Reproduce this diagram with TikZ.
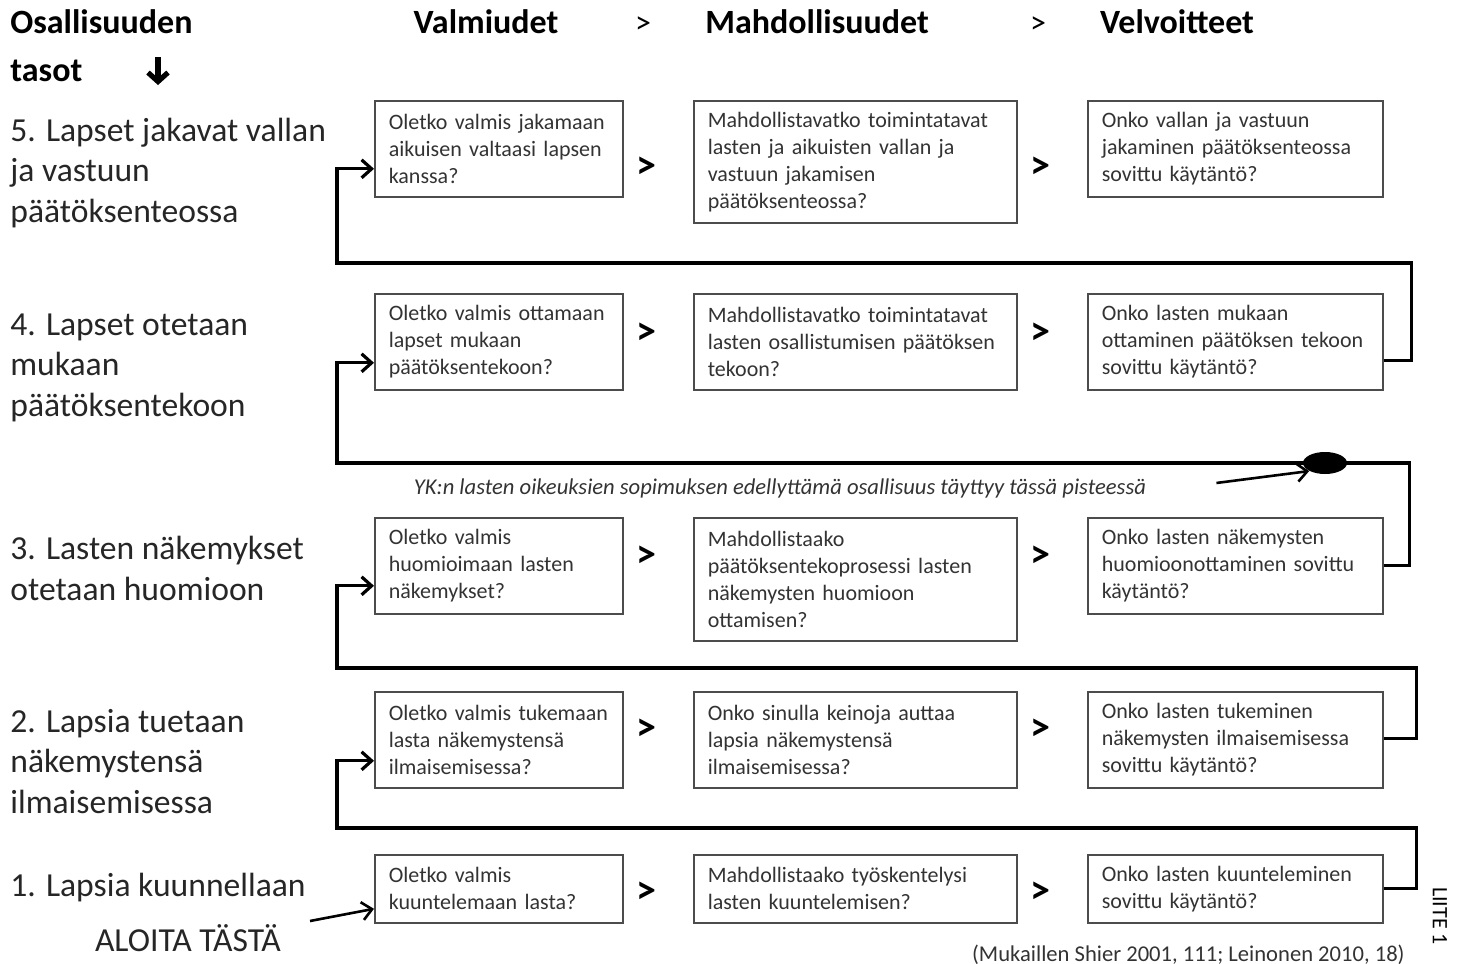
\documentclass[tikz,border=0pt]{standalone}
\usepackage{fontspec}
\setmainfont{Carlito}
\usetikzlibrary{arrows.meta,calc,shapes.geometric}

\begin{document}
\begin{tikzpicture}[x=0.5pt,y=-0.5pt,>={Straight Barb[length=5pt,width=9pt]},
                    line join=miter]
  \tikzstyle{kysymys}=[rectangle,draw=black!70,line width=0.8pt,fill=white,
                       anchor=north west,inner xsep=7pt,inner ysep=0pt,align=left,
                       text=black!80,font=\fontsize{11}{13.5}\selectfont,minimum height=48pt]
  \tikzstyle{valm}=[kysymys,text width=110pt]
  \tikzstyle{mahd}=[kysymys,text width=147.5pt]
  \tikzstyle{velv}=[kysymys,text width=133.5pt]
  \tikzstyle{taso}=[anchor=base west,align=left,inner sep=0pt,text=black!85,
                    font=\fontsize{16.8}{20.25}\selectfont]
  \tikzstyle{otsikko}=[anchor=base,inner sep=0pt,font=\fontsize{17}{18}\selectfont\bfseries]
  \tikzstyle{suurempi}=[inner sep=0pt,font=\fontsize{20}{20}\selectfont\bfseries]
  \tikzstyle{kulku}=[->,line width=1.6pt]

  \useasboundingbox (0,0) rectangle (1468,964);

  % otsikot
  \node[otsikko,anchor=base west] (osa)   at (10,33)  {Osallisuuden};
  \node[otsikko,anchor=base west] (tasot) at (10,81)  {tasot};
  \coordinate (n1) at (158,57);
  \coordinate (n2) at (158,85);
  \draw[line width=3pt,-{Straight Barb[length=4.5pt,width=10pt,line width=2.6pt]}] (n1) -- (n2);
  \node[otsikko] (valmiudet) at (486,33)  {Valmiudet};
  \node[otsikko] (mahdollisuudet) at (817,33) {Mahdollisuudet};
  \node[otsikko] (velvoitteet) at (1177,33) {Velvoitteet};
  \node[otsikko,font=\fontsize{16}{18}\selectfont] (ha) at (643,33)  {>};
  \node[otsikko,font=\fontsize{16}{18}\selectfont] (hb) at (1038,33) {>};

  % tasot (base = viimeisen rivin perusviiva)
  \node[taso] (t5) at (10,222) {5. Lapset jakavat vallan\\ja vastuun\\päätöksenteossa};
  \node[taso] (t4) at (10,416) {4. Lapset otetaan\\mukaan\\päätöksentekoon};
  \node[taso] (t3) at (10,600) {3. Lasten näkemykset\\otetaan huomioon};
  \node[taso] (t2) at (10,813) {2. Lapsia tuetaan\\näkemystensä\\ilmaisemisessa};
  \node[taso] (t1) at (10,896) {1. Lapsia kuunnellaan};
  \node[taso,anchor=base] (aloita) at (188,951) {ALOITA TÄSTÄ};

  % kysymykset
  \node[valm] (v5) at (374,100) {Oletko valmis jakamaan\\aikuisen valtaasi lapsen\\kanssa?};
  \node[mahd,minimum height=61pt] (m5) at (693,100) {Mahdollistavatko toimintatavat\\lasten ja aikuisten vallan ja\\vastuun jakamisen\\päätöksenteossa?};
  \node[velv] (o5) at (1087,100) {Onko vallan ja vastuun\\jakaminen päätöksenteossa\\sovittu käytäntö?};

  \node[valm] (v4) at (374,293) {Oletko valmis ottamaan\\lapset mukaan\\päätöksentekoon?};
  \node[mahd] (m4) at (693,293) {Mahdollistavatko toimintatavat\\lasten osallistumisen päätöksen\\tekoon?};
  \node[velv] (o4) at (1087,293) {Onko lasten mukaan\\ottaminen päätöksen tekoon\\sovittu käytäntö?};

  \node[valm] (v3) at (374,517) {Oletko valmis\\huomioimaan lasten\\näkemykset?};
  \node[mahd,minimum height=61.5pt] (m3) at (693,517) {Mahdollistaako\\päätöksentekoprosessi lasten\\näkemysten huomioon\\ottamisen?};
  \node[velv] (o3) at (1087,517) {Onko lasten näkemysten\\huomioonottaminen sovittu\\käytäntö?};

  \node[valm] (v2) at (374,691) {Oletko valmis tukemaan\\lasta näkemystensä\\ilmaisemisessa?};
  \node[mahd] (m2) at (693,691) {Onko sinulla keinoja auttaa\\lapsia näkemystensä\\ilmaisemisessa?};
  \node[velv] (o2) at (1087,691) {Onko lasten tukeminen\\näkemysten ilmaisemisessa\\sovittu käytäntö?};

  \node[valm,minimum height=34pt] (v1) at (374,854) {Oletko valmis\\kuuntelemaan lasta?};
  \node[mahd,minimum height=34pt] (m1) at (693,854) {Mahdollistaako työskentelysi\\lasten kuuntelemisen?};
  \node[velv,minimum height=34pt] (o1) at (1087,854) {Onko lasten kuunteleminen\\sovittu käytäntö?};

  % > merkit
  \node[suurempi] (g5a) at (646,168) {>};  \node[suurempi] (g5b) at (1040,168) {>};
  \node[suurempi] (g4a) at (646,334) {>};  \node[suurempi] (g4b) at (1040,334) {>};
  \node[suurempi] (g3a) at (646,557) {>};  \node[suurempi] (g3b) at (1040,557) {>};
  \node[suurempi] (g2a) at (646,730) {>};  \node[suurempi] (g2b) at (1040,730) {>};
  \node[suurempi] (g1a) at (646,893) {>};  \node[suurempi] (g1b) at (1040,893) {>};

  % piste ja huomautus
  \coordinate (piste) at (1325,463);
  \node[anchor=base,inner sep=0pt,text=black!80,font=\fontsize{11.3}{13}\selectfont\itshape] (yk) at (780,494)
    {YK:n lasten oikeuksien sopimuksen edellyttämä osallisuus täyttyy tässä pisteessä};

  % kulku tasolta toiselle
  \draw[kulku] (o1.east) -- ++(33,0) |- (337,828) |- ($(v2.west)+(0,21)$);
  \draw[kulku] ($(o2.east)+(0,-1)$) -- ++(33,0) |- (337,668) |- ($(v3.west)+(0,20)$);
  \draw[kulku] (o3.east) -- ++(26,0) |- (337,463) |- ($(v4.west)+(0,21)$);
  \draw[kulku] ($(o4.east)+(0,19)$) -- ++(28,0) |- (337,263) |- ($(v5.west)+(0,20)$);
  \node[ellipse,fill=black,minimum width=22pt,minimum height=11pt,inner sep=0pt] (pallo) at (piste) {};

  \draw[kulku,line width=1.3pt] ($(yk.east)+(70,-5)$) -- (pallo.south west);
  \coordinate (alku) at (310,921);
  \draw[kulku,line width=1.3pt] (alku) -- ($(v1.west)+(0,20)$);

  % lähde
  \node[anchor=base east,inner sep=0pt,text=black!80,font=\fontsize{11.3}{13}\selectfont] (lahde) at (1405,961)
    {(Mukaillen Shier 2001, 111; Leinonen 2010, 18)};
  \node[rotate=-90,inner sep=0pt,font=\fontsize{11}{12}\selectfont] (liite) at (1440,916) {LIITE 1};
\end{tikzpicture}
\end{document}
